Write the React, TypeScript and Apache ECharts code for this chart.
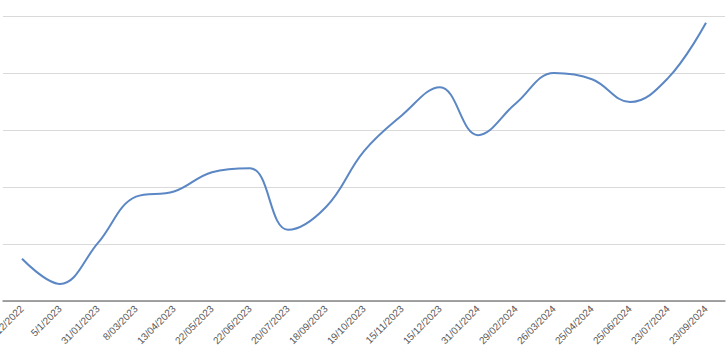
import React, { useEffect, useRef } from "react";
import * as echarts from "echarts";

const categories = [
  "5/12/2022", "5/1/2023", "31/01/2023", "8/03/2023", "13/04/2023", "22/05/2023",
  "22/06/2023", "20/07/2023", "18/09/2023", "19/10/2023", "15/11/2023", "15/12/2023",
  "31/01/2024", "29/02/2024", "26/03/2024", "25/04/2024", "25/06/2024", "23/07/2024",
  "23/09/2024",
];
const values = [
  0.74, 0.3, 1.02, 1.83, 1.92, 2.26, 2.33, 1.25, 1.65, 2.63, 3.26, 3.75,
  2.91, 3.47, 4.0, 3.89, 3.49, 3.91, 4.88,
];

export default function App() {
  const ref = useRef<HTMLDivElement>(null);
  useEffect(() => {
    if (!ref.current) return;
    const chart = echarts.init(ref.current, null, { renderer: "svg" });
    chart.setOption({
      animation: false,
      grid: {
        left: 3,
        right: 3,
        top: 16,
        bottom: 56,
        containLabel: false,
        outerBoundsMode: "none",
      },
      xAxis: {
        type: "category",
        data: categories,
        boundaryGap: true,
        axisLine: { lineStyle: { color: "#868686", width: 1.5 } },
        axisTick: { show: false },
        axisLabel: {
          rotate: 45,
          interval: 0,
          fontSize: 10,
          fontFamily: "Liberation Sans",
          color: "#595959",
          margin: 6,
        },
      },
      yAxis: {
        type: "value",
        min: 0,
        max: 5,
        interval: 1,
        axisLabel: { show: false },
        axisLine: { show: false },
        axisTick: { show: false },
        splitLine: { lineStyle: { color: "#d9d9d9", width: 1 } },
      },
      series: [
        {
          type: "line",
          data: values,
          smooth: 0.4,
          symbol: "none",
          lineStyle: { color: "#5b87c4", width: 2 },
        },
      ],
    });
    return () => chart.dispose();
  }, []);
  return (
    <div
      ref={ref}
      style={{ position: "absolute", left: 0, top: 0, width: 728, height: 357 }}
    />
  );
}
